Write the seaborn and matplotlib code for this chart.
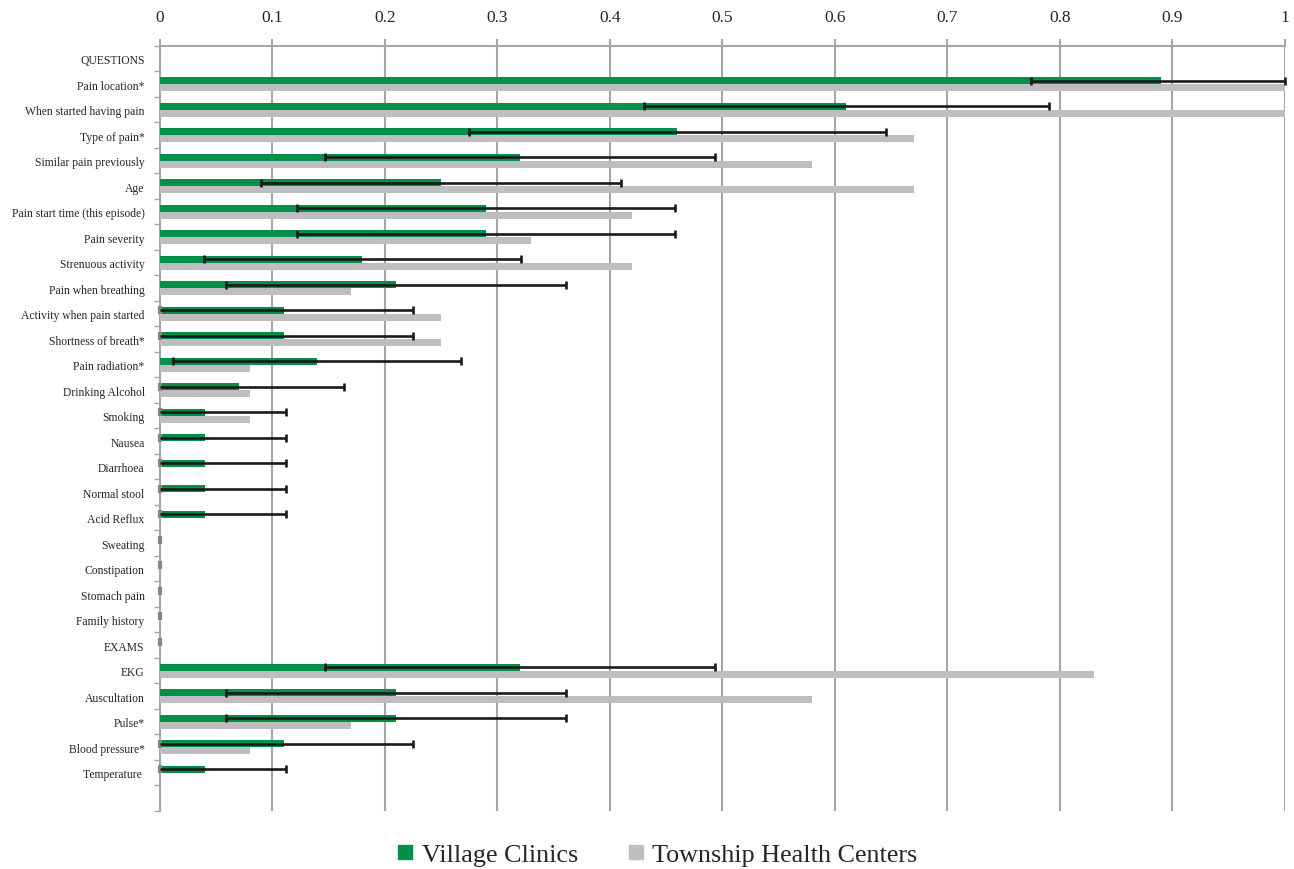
import numpy as np
import pandas as pd
import matplotlib
matplotlib.use("Agg")
import matplotlib.pyplot as plt
import seaborn as sns
from matplotlib.lines import Line2D

categories = ["QUESTIONS", "Pain location*", "When started having pain", "Type of pain*",
              "Similar pain previously", "Age", "Pain start time (this episode)", "Pain severity",
              "Strenuous activity", "Pain when breathing", "Activity when pain started",
              "Shortness of breath*", "Pain radiation*", "Drinking Alcohol", "Smoking", "Nausea",
              "Diarrhoea", "Normal stool", "Acid Reflux", "Sweating", "Constipation",
              "Stomach pain", "Family history", "EXAMS", "EKG", "Auscultation", "Pulse*",
              "Blood pressure*", "Temperature "]

village = [0, 0.89, 0.61, 0.46, 0.32, 0.25, 0.29, 0.29, 0.18, 0.21, 0.11, 0.11, 0.14, 0.07, 0.04,
           0.04, 0.04, 0.04, 0.04, 0, 0, 0, 0, 0, 0.32, 0.21, 0.21, 0.11, 0.04]
village_err = [np.nan, 0.116, 0.18, 0.185, 0.173, 0.16, 0.168, 0.168, 0.141, 0.151, 0.115, 0.115,
               0.128, 0.094, 0.072, 0.072, 0.072, 0.072, 0.072, 0, 0, 0, 0, 0, 0.173, 0.151,
               0.151, 0.115, 0.072]
township = [0, 1.0, 1.0, 0.67, 0.58, 0.67, 0.42, 0.33, 0.42, 0.17, 0.25, 0.25, 0.08, 0.08, 0.08,
            0, 0, 0, 0, 0, 0, 0, 0, 0, 0.83, 0.58, 0.17, 0.08, 0]
series = ["Village Clinics", "Township Health Centers"]
xticks = [0, 0.1, 0.2, 0.3, 0.4, 0.5, 0.6, 0.7, 0.8, 0.9, 1]
xticklabels = ["0", "0.1", "0.2", "0.3", "0.4", "0.5", "0.6", "0.7", "0.8", "0.9", "1"]

green = "#00904A"
grey = "#BEBEC2"
gridc = "#A6A6A6"
errc = "#1a1a1a"
stubc = "#858585"

df = pd.DataFrame({
    "cat": categories * 2,
    "val": village + township,
    "series": [series[0]] * len(categories) + [series[1]] * len(categories),
})

sns.set_style("white")
plt.rcParams["font.family"] = ["Liberation Serif", "DejaVu Serif"]

fig = plt.figure(figsize=(12.94, 8.70), dpi=100)
ax = fig.add_axes([0.1236, 0.0667, 0.8694, 0.8793])

sns.barplot(data=df, y="cat", x="val", hue="series", order=categories, hue_order=series,
            palette=[green, grey], orient="h", width=0.56, dodge=True, gap=0,
            errorbar=None, ax=ax, legend=False, saturation=1, zorder=3,
            linewidth=0, edgecolor="none")

ax.set_xlim(0, 1)
ax.set_ylim(len(categories) + 0.5, -0.5)

# error bars on the village clinic bars (clipped to the 0..1 axis range)
patches = ax.containers[0].patches
ys = np.array([p.get_y() + p.get_height() / 2 for p in patches])
vals = np.array(village)
errs = np.array(village_err)
lo_end = np.clip(vals - errs, 0, 1)
hi_end = np.clip(vals + errs, 0, 1)
nz = np.nan_to_num(errs) > 0
z = (errs == 0)
ax.errorbar(vals[nz], ys[nz], xerr=[vals[nz] - lo_end[nz], hi_end[nz] - vals[nz]], fmt="none",
            ecolor=errc, elinewidth=1.9, capsize=0, zorder=4, clip_on=False)
# caps
ax.plot(hi_end[nz], ys[nz], ls="none", marker="|", ms=6, mew=1.9, color=errc, zorder=4,
        clip_on=False)
lo_free = nz & (lo_end > 0)
lo_clip = nz & (lo_end <= 0)
ax.plot(lo_end[lo_free], ys[lo_free], ls="none", marker="|", ms=6, mew=1.9, color=errc,
        zorder=4, clip_on=False)
stub = lo_clip | z
ax.plot(lo_end[stub], ys[stub], ls="none", marker="|", ms=6, mew=3, color=stubc,
        zorder=3.5, clip_on=False)

# x axis on top with gridlines
ax.xaxis.tick_top()
ax.set_xticks(xticks)
ax.set_xticklabels(xticklabels, fontsize=12.5)
ax.tick_params(axis="x", which="major", length=5, width=1.5, color=gridc, pad=10,
               top=True, bottom=False)
ax.grid(axis="x", color=gridc, linewidth=1.5, zorder=0)
ax.set_axisbelow(True)

# y axis labels and boundary ticks
ax.set_yticks(range(len(categories)))
ax.set_yticklabels(categories, fontsize=8.4)
ax.tick_params(axis="y", which="major", length=0, pad=11)
ax.set_yticks(np.arange(-0.5, len(categories) + 0.6, 1.0), minor=True)
ax.tick_params(axis="y", which="minor", length=4, width=1, color=gridc, left=True)

ax.set_xlabel("")
ax.set_ylabel("")
for side in ["right", "bottom"]:
    ax.spines[side].set_visible(False)
for side in ["left", "top"]:
    ax.spines[side].set_color(gridc)
    ax.spines[side].set_linewidth(1.5)

handles = [Line2D([], [], marker="s", linestyle="none", markersize=10.5, color=green),
           Line2D([], [], marker="s", linestyle="none", markersize=10.5, color=grey)]
fig.legend(handles, series, loc="center", bbox_to_anchor=(0.505, 0.017), ncol=2,
           frameon=False, fontsize=18.8, handletextpad=0.05, columnspacing=1.6,
           handlelength=1.2)

fig.savefig("out.png", dpi=100)
